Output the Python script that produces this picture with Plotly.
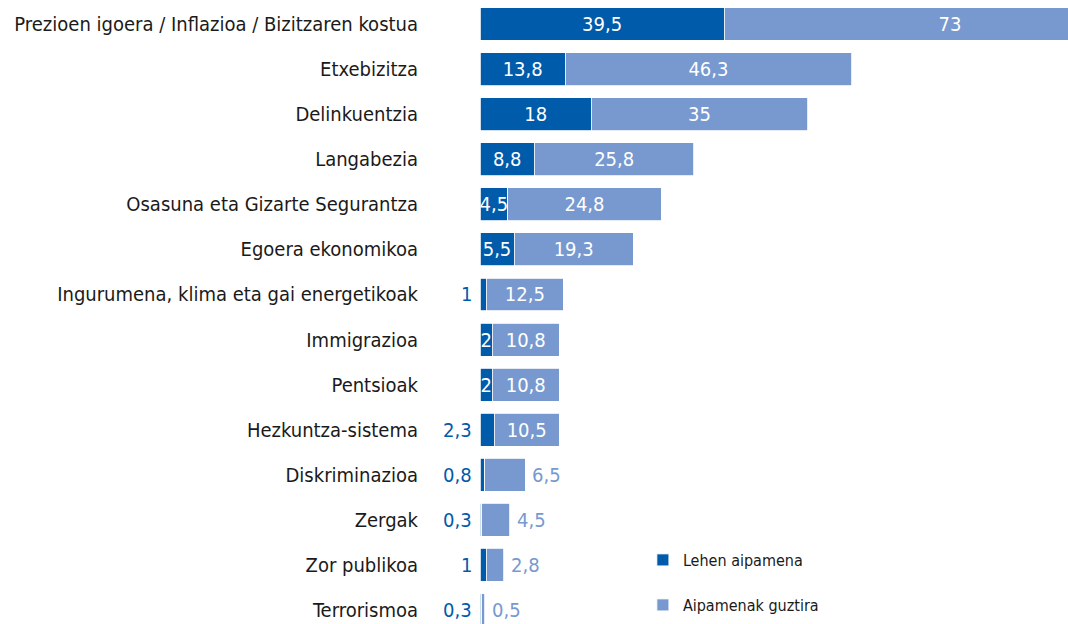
import plotly.graph_objects as go

categories = [
    "Prezioen igoera / Inflazioa / Bizitzaren kostua",
    "Etxebizitza",
    "Delinkuentzia",
    "Langabezia",
    "Osasuna eta Gizarte Segurantza",
    "Egoera ekonomikoa",
    "Ingurumena, klima eta gai energetikoak",
    "Immigrazioa",
    "Pentsioak",
    "Hezkuntza-sistema",
    "Diskriminazioa",
    "Zergak",
    "Zor publikoa",
    "Terrorismoa",
]
first_mention = [39.5, 13.8, 18, 8.8, 4.5, 5.5, 1, 2, 2, 2.3, 0.8, 0.3, 1, 0.3]
all_mentions = [73, 46.3, 35, 25.8, 24.8, 19.3, 12.5, 10.8, 10.8, 10.5, 6.5, 4.5, 2.8, 0.5]
series_names = ["Lehen aipamena", "Aipamenak guztira"]

DARK = "#005BAA"
LIGHT = "#7799CF"
FONT = "DejaVu Sans Condensed, Liberation Sans Narrow, sans-serif"
PX_PER_UNIT = 588 / 95.1


def fmt(v):
    if float(v).is_integer():
        return str(int(v))
    return str(v).replace(".", ",")


def fits(v, s, extra=0):
    return v * PX_PER_UNIT > len(s) * 8 + extra


dark_text, light_text = [], []
annotations = []
for i, (c, a, b) in enumerate(zip(categories, first_mention, all_mentions)):
    sa, sb = fmt(a), fmt(b)
    if fits(a, sa):
        dark_text.append(sa)
    else:
        dark_text.append("")
        annotations.append(dict(x=0, y=c, xref="x", yref="y", text=sa, showarrow=False,
                                xanchor="right", xshift=-6, font=dict(color=DARK, size=20, family=FONT)))
    if fits(b, sb, 20):
        light_text.append(sb)
    else:
        light_text.append("")
        annotations.append(dict(x=a + b, y=c, xref="x", yref="y", text=sb, showarrow=False,
                                xanchor="left", xshift=5, font=dict(color=LIGHT, size=20, family=FONT)))

fig = go.Figure()
fig.add_trace(go.Bar(
    y=categories, x=first_mention, orientation="h", name=series_names[0],
    marker=dict(color=DARK, line=dict(color="white", width=0.8)),
    text=dark_text, textposition="inside", insidetextanchor="middle", textangle=0,
    insidetextfont=dict(color="white", size=20, family=FONT), constraintext="none",
    legend="legend", showlegend=True, hoverinfo="skip",
))
fig.add_trace(go.Bar(
    y=categories, x=all_mentions, orientation="h", name=series_names[1],
    marker=dict(color=LIGHT, line=dict(color="white", width=0.8)),
    text=light_text, textposition="inside", insidetextanchor="middle", textangle=0,
    insidetextfont=dict(color="white", size=20, family=FONT), constraintext="none",
    legend="legend2", showlegend=True, hoverinfo="skip",
))

fig.update_layout(
    width=1068, height=624,
    margin=dict(l=480, r=0, t=0, b=0),
    barmode="stack", bargap=0.27,
    plot_bgcolor="white", paper_bgcolor="white",
    font=dict(family=FONT, size=20, color="#1a1a1a"),
    uniformtext=dict(minsize=20, mode="show"),
    annotations=annotations,
    showlegend=True,
    xaxis=dict(range=[0, 95.1], visible=False, fixedrange=True),
    yaxis=dict(type="category", range=[13.31, -0.532], showgrid=False, showline=False,
               ticks="outside", ticklen=57, tickcolor="rgba(0,0,0,0)", fixedrange=True,
               tickfont=dict(size=20, family=FONT, color="#1a1a1a")),
    legend=dict(x=0.277, y=1 - 560 / 624, xanchor="left", yanchor="middle",
                font=dict(size=16, family=FONT, color="#1a1a1a"), bgcolor="rgba(0,0,0,0)"),
    legend2=dict(x=0.277, y=1 - 605 / 624, xanchor="left", yanchor="middle",
                 font=dict(size=16, family=FONT, color="#1a1a1a"), bgcolor="rgba(0,0,0,0)"),
)

fig.write_html("out.html", config={"displayModeBar": False},
               post_script="document.body.style.margin='0px';")
